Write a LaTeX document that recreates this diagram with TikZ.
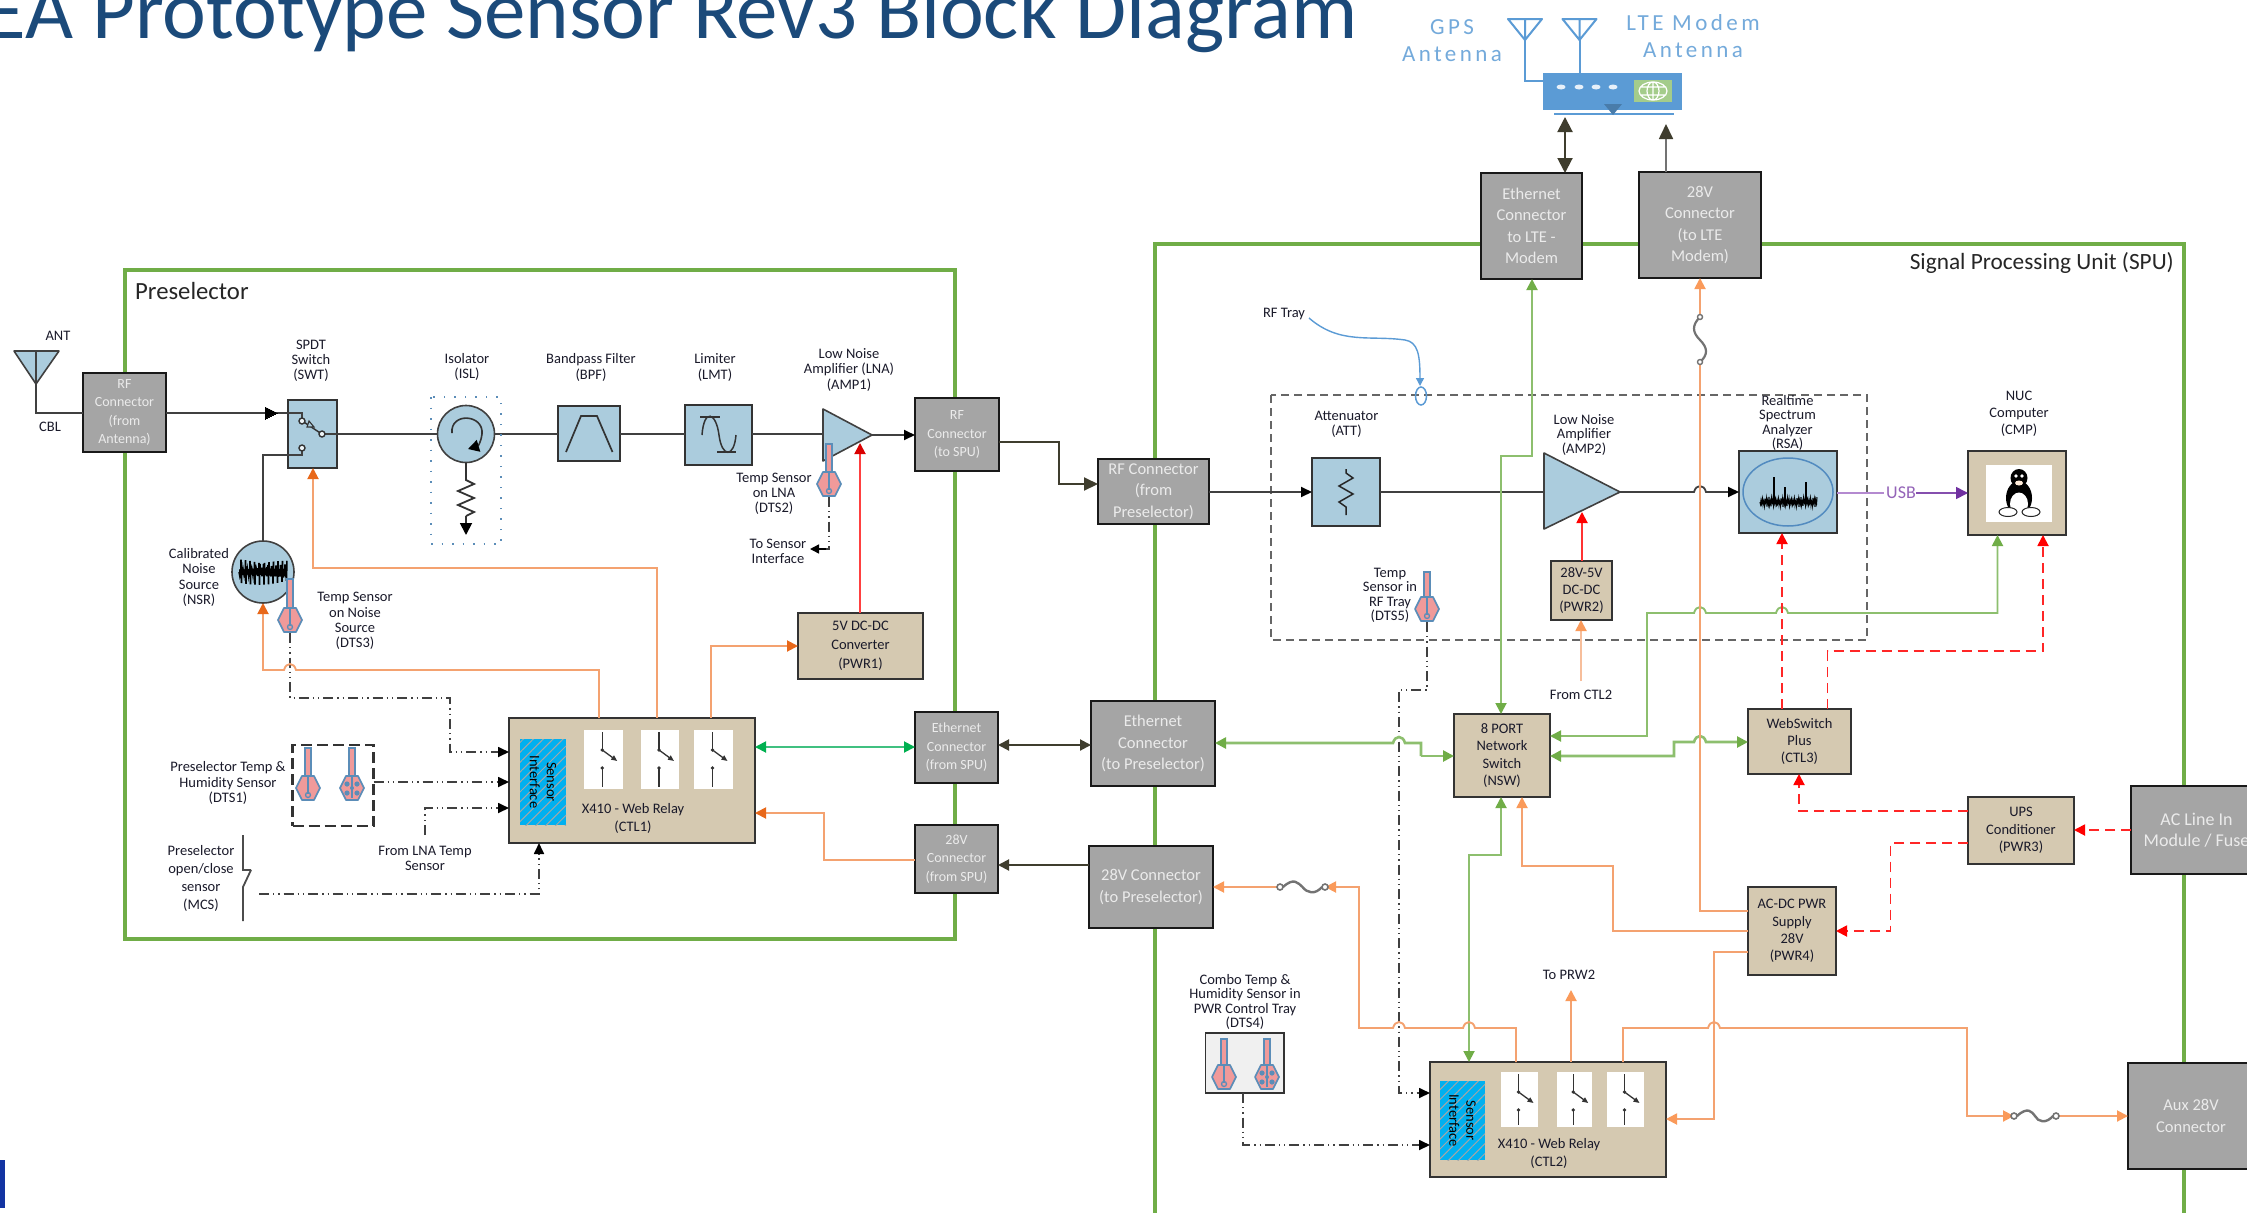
\documentclass[tikz,border=0pt]{standalone}
\usepackage{fontspec}
\setmainfont{Carlito}
\usetikzlibrary{arrows.meta,patterns.meta,calc}
\definecolor{lblue}{HTML}{ABCCDD}
\definecolor{tanb}{HTML}{D5C9B1}
\definecolor{grayb}{HTML}{A5A5A5}
\definecolor{grn}{HTML}{70AD47}
\definecolor{grnl}{HTML}{8DBF6E}
\definecolor{org}{HTML}{F4A270}
\definecolor{orgd}{HTML}{E8681A}
\definecolor{orgt}{HTML}{FA9A5A}
\definecolor{mblue}{HTML}{5B9BD5}
\definecolor{dkol}{HTML}{3F3D2E}
\definecolor{ink}{HTML}{1A1A2A}
\definecolor{pinkf}{HTML}{F09A9A}
\definecolor{sblue}{HTML}{5B8DB8}
\definecolor{purp}{HTML}{7030A0}
\definecolor{purpl}{HTML}{B48AD0}
\definecolor{titlec}{HTML}{1B4A7A}
\definecolor{brg}{HTML}{00B050}
\definecolor{brgl}{HTML}{40C080}
\tikzset{
 x=1pt,y=-1pt,
 gbox/.style={draw=black!90,line width=2.6pt,fill=grayb,text=white!92!black,font=\fontsize{14}{18.5}\selectfont,align=center},
 gboxl/.style={gbox,font=\fontsize{16.5}{21.5}\selectfont},
 tbox/.style={draw=black!80,line width=1.6pt,fill=tanb,text=ink,font=\fontsize{14.5}{17.3}\selectfont,align=center},
 bbox/.style={draw=black!80,line width=1.6pt,fill=lblue},
 lbl/.style={text=ink,font=\fontsize{14.5}{15.2}\selectfont,align=center,inner sep=0pt},
 wireblk/.style={draw=black!75,line width=1.8pt},
 wirek/.style={-{Triangle[length=11pt,width=10pt,color=black]}},
 wiredk/.style={draw=dkol,line width=2pt},
 wireorg/.style={draw=org,line width=1.9pt},
 tiporg/.style={-{Triangle[length=11pt,width=11pt,color=orgt]}},
 tiporgd/.style={-{Triangle[length=11pt,width=11pt,color=orgd]}},
 wiregrn/.style={draw=grnl,line width=1.9pt},
 tipgrn/.style={-{Triangle[length=11pt,width=11pt,color=grn]}},
 wirered/.style={draw=red!85!white,line width=1.9pt,dash pattern=on 10pt off 6pt},
 tipred/.style={-{Triangle[length=11pt,width=11pt,color=red]}},
 wiredash/.style={draw=black!75,line width=1.7pt,dash pattern=on 10pt off 4pt on 1.3pt off 4pt on 1.3pt off 4pt},
}
% box from corners
\newcommand\bx[7]{\node[#2,inner sep=0pt,outer sep=0pt,minimum width={(#5-#3)*1pt},minimum height={(#6-#4)*1pt}] (#1) at ({(#3+#5)/2},{(#4+#6)/2}) {#7};}
\newcommand\humpR[2]{-- (#1-6,#2) .. controls (#1-4,#2-8) and (#1+4,#2-8) .. (#1+6,#2)}
\newcommand\humpL[2]{-- (#1+6,#2) .. controls (#1+4,#2-8) and (#1-4,#2-8) .. (#1-6,#2)}
% temperature sensor: centre x, bar top, hexagon centre y, kind
\newcommand\tsens[4]{%
 \draw[sblue,line width=1.5pt,fill=pinkf] (#1-3,#2) rectangle (#1+3,#3-8);
 \draw[sblue,line width=1.7pt,fill=pinkf,line join=round] (#1-12,#3) -- (#1-6,#3-12) -- (#1+6,#3-12) -- (#1+12,#3) -- (#1+6,#3+12) -- (#1-6,#3+12) -- cycle;
 \ifnum#4=0
  \draw[sblue,line width=1.5pt] (#1,#3-12) -- (#1,#3+6);
  \draw[sblue,line width=1.3pt] (#1,#3+7) circle[radius=2.5];
 \else
  \fill[sblue] (#1-5,#3-4) circle[radius=2.6] (#1+5,#3-4) circle[radius=2.6] (#1-5,#3+5) circle[radius=2.6] (#1+5,#3+5) circle[radius=2.6] (#1,#3) circle[radius=2];
  \draw[sblue,line width=1.5pt] (#1,#3-12) -- (#1,#3+10);
 \fi}
% relay contact panel
\newcommand\relay[4]{%
 \fill[white] (#1,#2) rectangle (#3,#4);
 \draw[black!80,line width=1.5pt] ({(#1+#3)/2-1},#2+2) -- ({(#1+#3)/2-1},#2+20);
 \draw[black!80,line width=1.3pt,-{Triangle[length=6pt,width=5pt]}] ({(#1+#3)/2-1},#2+20) -- ({(#1+#3)/2+14},#2+31);
 \fill[black!80] ({(#1+#3)/2-1},#2+20) circle[radius=1.8];
 \draw[black!80,line width=1.5pt] ({(#1+#3)/2-1},#2+38) -- ({(#1+#3)/2-1},#4-2);
 \fill[black!80] ({(#1+#3)/2-1},#2+38) circle[radius=1.8];}
\newcommand\fusesym[3]{%
 \draw[black!55,line width=2.4pt] (#1+3,#3) .. controls (#1+14,#3-10) and (#1+18,#3-4) .. ({(#1+#2)/2},#3) .. controls (#2-18,#3+6) and (#2-10,#3+8) .. (#2-3,#3);
 \draw[black!55,line width=1.6pt,fill=white] (#1,#3) circle[radius=3] (#2,#3) circle[radius=3];}
\begin{document}
\begin{tikzpicture}
\useasboundingbox (0,0) rectangle (2247,1213);
\clip (0,0) rectangle (2247,1213);
\fill[white] (0,0) rectangle (2247,1213);
% title and corner mark
\node[anchor=base east,inner sep=0pt,text=titlec,font=\fontsize{83}{95}\selectfont] (title) at (1358,38) {EA Prototype Sensor Rev3 Block Diagram};
\fill[blue!30!titlec] (0,1160) rectangle (5,1208);
% frames
\draw[grn,line width=3.6pt] (125,270) rectangle (955,939);
\draw[grn,line width=3.6pt] (1155,1240) -- (1155,244) -- (2184,244) -- (2184,1240);
\node[anchor=west,inner sep=0pt,text=black!85,font=\fontsize{24.7}{28}\selectfont] (presel) at (135,291) {Preselector};
\node[anchor=east,inner sep=0pt,text=black!85,font=\fontsize{23.3}{26}\selectfont] (spulbl) at (2174,263) {Signal Processing Unit (SPU)};
\draw[black!60,line width=1.3pt,dash pattern=on 8pt off 5pt] (1271,395) rectangle (1867,640);
% antenna
\draw[black!75,line width=1.6pt,fill=lblue,line join=round] (14,351) -- (59,351) -- (36,384) -- cycle;
\draw[black!75,line width=1.6pt] (36,351) -- (36,384);
\coordinate (antfoot) at (36,384);
\node[lbl] (antlbl) at (58,336) {ANT};
\node[lbl] (cbllbl) at (50,427) {CBL};
% gray connectors
\bx{rfant}{gbox}{83}{373}{166}{452}{RF\\Connector\\(from\\Antenna)}
\bx{rfspu}{gbox}{915}{398}{999}{471}{RF\\Connector\\(to SPU)}
\bx{ethspu}{gbox}{915}{712}{998}{783}{Ethernet\\Connector\\(from SPU)}
\bx{pwspu}{gbox}{915}{825}{998}{893}{28V\\Connector\\(from SPU)}
\bx{rfpre}{gboxl}{1098}{459}{1209}{524}{RF Connector\\(from\\Preselector)}
\bx{ethpre}{gboxl}{1091}{701}{1215}{786}{Ethernet\\Connector\\(to Preselector)}
\bx{pwpre}{gboxl}{1089}{846}{1213}{928}{28V Connector\\(to Preselector)}
\bx{ethlte}{gboxl}{1481}{173}{1582}{279}{Ethernet\\Connector\\to LTE -\\Modem}
\bx{pwlte}{gboxl}{1639}{172}{1761}{278}{28V\\Connector\\(to LTE\\Modem)}
\bx{acin}{gboxl,font=\fontsize{18}{21.5}\selectfont}{2131}{786}{2262}{874}{AC Line In\\Module / Fuse}
\bx{aux}{gboxl}{2128}{1063}{2262}{1169}{\hspace*{-8pt}Aux 28V\\\hspace*{-8pt}Connector}
% RF chain boxes
\bx{swt}{bbox}{288}{400}{337}{468}{}
\bx{bpf}{bbox}{558}{406}{620}{461}{}
\bx{lmt}{bbox}{685}{405}{752}{465}{}
\bx{att}{bbox}{1312}{458}{1380}{526}{}
\bx{rsa}{bbox}{1739}{451}{1837}{533}{}
\draw[black!75,line width=1.6pt,fill=lblue] (466,434) circle[radius=28.5];
\coordinate (islw) at (437.5,434); \coordinate (isle) at (494.5,434); \coordinate (isls) at (466,462.5);
\draw[black!75,line width=1.6pt,fill=lblue] (263,572) circle[radius=31];
\coordinate (nsrn) at (263,541); \coordinate (nsrs) at (263,603);
\draw[black!75,line width=1.6pt,fill=lblue,line join=round] (823,409) -- (872,435) -- (823,461) -- cycle;
\coordinate (lnaw) at (823,434); \coordinate (lnae) at (872,435);
\draw[black!75,line width=1.6pt,fill=lblue,line join=round] (1544,453) -- (1620,492) -- (1544,529) -- cycle;
\coordinate (ampw) at (1544,492); \coordinate (ampe) at (1620,492);
% tan boxes
\bx{pwr1}{tbox,font=\fontsize{14.5}{19}\selectfont}{798}{613}{923}{679}{5V DC-DC\\Converter\\(PWR1)}
\bx{ctla}{tbox}{509}{718}{755}{843}{}
\bx{ctlb}{tbox}{1430}{1062}{1666}{1177}{}
\bx{pwr2}{tbox}{1551}{561}{1612}{620}{28V-5V\\DC-DC\\(PWR2)}
\bx{nsw}{tbox}{1454}{714}{1550}{797}{8 PORT\\Network\\Switch\\(NSW)}
\bx{ctlc}{tbox}{1748}{709}{1851}{774}{WebSwitch\\Plus\\(CTL3)}
\bx{pwr3}{tbox}{1968}{797}{2074}{864}{UPS\\Conditioner\\(PWR3)}
\bx{pwr4}{tbox}{1748}{887}{1836}{975}{AC-DC PWR\\Supply\\28V\\(PWR4)}
\bx{cmp}{tbox}{1968}{451}{2066}{535}{}
\fill[white] (1986,465) rectangle (2052,522);
% modem
\bx{modem}{fill=mblue}{1543}{73}{1682}{110}{}
\draw[mblue,line width=1.6pt] (1554,114) -- (1674,114);
\fill[white!85!mblue] (1561,87) ellipse[x radius=4.5,y radius=2.5] (1579,87) ellipse[x radius=4.5,y radius=2.5] (1596,87) ellipse[x radius=4.5,y radius=2.5] (1613,87) ellipse[x radius=4.5,y radius=2.5];
\fill[mblue!80!black] (1604,104) -- (1622,104) -- (1613,115) -- cycle;
\fill[grnl!80!white] (1634,80) rectangle (1672,102);
\draw[white,line width=1.2pt] (1653,91) ellipse[x radius=14,y radius=9] (1653,91) ellipse[x radius=6,y radius=9] (1653,82) -- (1653,100) (1640,87) -- (1666,87) (1640,95) -- (1666,95);
\draw[mblue,line width=2pt,line join=round] (1508,19) -- (1542,19) -- (1525,40) -- cycle (1525,40) -- (1525,19);
\draw[mblue,line width=2pt,line join=round] (1562.5,19) -- (1596.5,19) -- (1579.5,40) -- cycle (1579.5,40) -- (1579.5,19);
\draw[mblue,line width=2pt] (1525,40) -- (1525,81) -- (modem.west |- 0,81);
\draw[mblue,line width=2pt] (1579.5,40) -- (modem.north -| 1579.5,0);
\node[lbl,text=mblue!85!white,font=\fontsize{23}{27.5}\addfontfeature{LetterSpace=15}\selectfont] (gpslbl) at (1452,40.5) {GPS\\Antenna};
\node[lbl,text=mblue!85!white,font=\fontsize{23}{27.5}\addfontfeature{LetterSpace=15}\selectfont] (ltelbl) at (1693,36) {LTE Modem\\Antenna};
% --- top connectors
\draw[wiredk,{Triangle[length=15pt,width=15pt]}-{Triangle[length=15pt,width=15pt]}] (1565,117) -- (ethlte.north -| 1565,0);
\draw[draw=black!55,line width=1.7pt,-{Triangle[length=15pt,width=14pt,color=dkol]}] (pwlte.north -| 1666,0) -- (1666,124);
% --- preselector RF chain
\draw[wireblk] (antfoot) -- (36,413) -- (rfant.west |- 0,413);
\draw[wireblk] (rfant.east |- 0,413) -- (302,413) -- (302,418);
\draw[black,line width=0pt,fill=black] (265,407) -- (277,413) -- (265,419) -- cycle;
\draw[wireblk] (322,434) -- (islw);
\draw[wireblk] (isle) -- (bpf.west |- 0,434);
\draw[wireblk] (bpf.east |- 0,434) -- (lmt.west |- 0,434);
\draw[wireblk] (lmt.east |- 0,434) -- (lnaw);
\draw[wireblk,wirek] (lnae) -- (rfspu.west |- 0,435);
\draw[wireblk] (302,451) -- (302,455) -- (263,455) -- (nsrn);
\draw[wiredk,-{Triangle[length=14pt,width=13pt]}] (rfspu.east |- 0,442) -- (1059,442) -- (1059,484) -- (rfpre.west |- 0,484);
% switch details
\draw[black!80,line width=1.4pt,fill=white!80!lblue] (302,421) circle[radius=3] (322,434) circle[radius=3] (302,448) circle[radius=3];
\draw[black!80,line width=1.4pt] (304.5,422.5) -- (319.5,432.5);
\draw[black!80,line width=1.1pt,fill=lblue] (309,421) -- (314,427) -- (307,427) -- cycle;
% isolator details
\draw[black!80,line width=1.6pt,-{Triangle[length=11pt,width=12pt,color=black]}] (452,433) .. controls (450,412) and (484,414) .. (482,434) .. controls (481,442) and (478,446) .. (468,449);
\draw[sblue,line width=2pt,dash pattern=on 1.5pt off 9pt] (431,397) rectangle (501,544);
\draw[black!80,line width=1.8pt] (isls) -- (466,480) -- (474,484) -- (458,491) -- (474,498) -- (458,505) -- (474,512) -- (466,516);
\draw[black!80,line width=1.8pt,-{Triangle[length=12pt,width=12pt,color=black]}] (466,516) -- (466,535);
% symbols
\draw[black!80,line width=1.7pt] (566,452) -- (581,416) -- (597,416) -- (612.5,452);
\draw[black!80,line width=1.7pt] (700,417) -- (720,417) (717,452) -- (736,452);
\draw[black!80,line width=1.5pt] (702,435) .. controls (704,408) and (716,412) .. (719,435) .. controls (722,458) and (734,458) .. (736,435);
\draw[black!85,line width=1.5pt] (1346,469) -- (1346,473) -- (1353,478) -- (1339,486) -- (1353,494) -- (1339,502) -- (1346,507) -- (1346,515);
% noise source
\draw[black,line width=1.5pt] plot[domain=0:48,samples=97,variable=\t] (239+\t,{572+13*sin(\t*320)*(0.65+0.35*cos(\t*157+20))});
\tsens{290}{579}{620}{0}
% LNA temp
\tsens{829}{444}{484}{0}
\draw[wiredash] (829,497) -- (829,549) -- (820,549);
\draw[black,line width=1.4pt,-{Triangle[length=9pt,width=9pt]}] (826,549) -- (810,549);
% DTS3 signal
\draw[wiredash,wirek] (290,633) -- (290,698) -- (450,698) -- (450,752) -- (ctla.west |- 0,752);
% DTS1
\node[inner sep=0pt,outer sep=0pt,draw=black!80,line width=2.2pt,dash pattern=on 11pt off 5pt,minimum width=81pt,minimum height=81pt] (dtsa) at (333,785.5) {};
\tsens{308}{748}{788}{0}
\tsens{352}{748}{788}{1}
\draw[wiredash,wirek] (dtsa.east |- 0,782) -- (ctla.west |- 0,782);
% LNA temp in
\draw[wiredash,wirek] (425,835) -- (425,808) -- (ctla.west |- 0,808);
% MCS
\coordinate (mcsout) at (259,894);
\draw[black!70,line width=1.8pt] (243,835) -- (243,870) -- (251,870) (251,870) -- (243,887) -- (243,921);
\draw[wiredash,wirek] (mcsout) -- (539,894) -- (ctla.south -| 539,0);
% CTL1 internals
\node[draw=none,fill={rgb,255:red,0;green,176;blue,240},inner sep=0pt,outer sep=0pt,minimum width=46pt,minimum height=86pt,postaction={pattern={Lines[angle=45,distance=7pt,line width=1pt]},pattern color=black!35}] (sia) at (543,782) {};
\node[rotate=-90,text=black,inner sep=0pt,align=center,font=\fontsize{14.5}{17}\selectfont] (siat) at (543,782) {Sensor\\Interface};
\relay{584}{730}{622.5}{789}
\relay{641}{730}{679}{789}
\relay{694}{730}{733}{789}
\node[lbl,font=\fontsize{14.5}{18}\selectfont] (ctlat) at (633,818) {X410 - Web Relay\\(CTL1)};
% CTL1 orange
\draw[wireorg,tiporgd] (599,718) -- (599,670) \humpL{290}{670} -- (263,670) -- (nsrs);
\draw[wireorg,tiporgd] (657,718) -- (657,568) -- (313,568) -- (swt.south -| 313,0);
\draw[wireorg,tiporgd] (711,718) -- (711,646) -- (pwr1.west |- 0,646);
\draw[draw=red!75!white,line width=1.9pt,-{Triangle[length=11pt,width=11pt,color=red!85!black]}] (pwr1.north -| 860,0) -- (860,443);
\draw[wireorg,tiporgd] (pwspu.west |- 0,860) -- (824,860) -- (824,813) -- (ctla.east |- 0,813);
\draw[draw=brgl,line width=1.9pt,{Triangle[length=11pt,width=11pt,color=brg]}-{Triangle[length=11pt,width=11pt,color=brg]}] (ctla.east |- 0,747) -- (ethspu.west |- 0,747);
\draw[wiredk,{Triangle[length=11pt,width=11pt]}-{Triangle[length=11pt,width=11pt]}] (ethspu.east |- 0,745) -- (ethpre.west |- 0,745);
\draw[wiredk,-{Triangle[length=11pt,width=11pt]}] (pwpre.west |- 0,865) -- (pwspu.east |- 0,865);
% preselector labels
\node[lbl] (swtl) at (311,360.5) {SPDT\\Switch\\(SWT)};
\node[lbl] (isll) at (467,367) {Isolator\\(ISL)};
\node[lbl] (bpfl) at (591,367.5) {Bandpass Filter\\(BPF)};
\node[lbl] (lmtl) at (715,367.5) {Limiter\\(LMT)};
\node[lbl] (lnal) at (849,370) {Low Noise\\Amplifier (LNA)\\(AMP1)};
\node[lbl] (nsrl) at (199,577.5) {Calibrated\\Noise\\Source\\(NSR)};
\node[lbl] (dtscl) at (355,621) {Temp Sensor\\on Noise\\Source\\(DTS3)};
\node[lbl] (dtsbl) at (774,494) {Temp Sensor\\on LNA\\(DTS2)};
\node[lbl] (tosil) at (778,551) {To Sensor\\Interface};
\node[lbl] (dtsal) at (228,783) {Preselector Temp \&\\Humidity Sensor\\(DTS1)};
\node[lbl] (fromlna) at (425,858) {From LNA Temp\\Sensor};
\node[lbl,font=\fontsize{14.5}{18}\selectfont] (mcsl) at (201,878.5) {Preselector\\open/close\\sensor\\(MCS)};
% --- SPU RF chain
\draw[wireblk,wirek] (rfpre.east |- 0,492) -- (att.west |- 0,492);
\draw[wireblk] (att.east |- 0,492) -- (ampw);
\draw[wireblk,wirek] (ampe) \humpR{1700}{492} -- (rsa.west |- 0,492);
\draw[mblue!90!black,line width=1.5pt] (1788,492) ellipse[x radius=45,y radius=34];
\draw[black,line width=1.1pt] plot[domain=0:57,samples=115,variable=\t] (1760+\t,{502+5*sin(\t*270)*(0.65+0.35*cos(\t*157+20))});
\draw[black,line width=1.2pt] (1774,502) -- (1774,477) (1785,502) -- (1785,487) (1806,502) -- (1806,482);
\draw[draw=purpl,line width=2.2pt] (rsa.east |- 0,493) -- (1884,493);
\draw[draw=purp!85!white,line width=1.6pt,-{Triangle[length=12pt,width=12pt,color=purp]}] (1916,493) -- (cmp.west |- 0,493);
\node[inner sep=0pt,text=purp!75!white,font=\fontsize{18}{20}\selectfont] (usbl) at (1901,493) {USB};
% Tux
\fill[black] (2019,478) ellipse[x radius=8.5,y radius=9];
\fill[black] (2019,498) ellipse[x radius=13,y radius=17];
\fill[black] (2006,499) -- (2011,486) -- (2013,505) -- cycle (2032,499) -- (2027,486) -- (2025,505) -- cycle;
\fill[white] (2019,504) ellipse[x radius=9,y radius=11.5];
\fill[white!85!orange] (2019,483) ellipse[x radius=4,y radius=2.5];
\fill[white] (2016,476) circle[radius=1.8] (2022,476) circle[radius=1.8];
\draw[black!85,fill=white,line width=1pt] (2008,512) ellipse[x radius=9,y radius=4.5];
\draw[black!85,fill=white,line width=1pt] (2031,512) ellipse[x radius=9,y radius=4.5];
% SPU labels
\node[lbl] (attl) at (1346.5,424.5) {Attenuator\\(ATT)};
\node[lbl,font=\fontsize{14.5}{14.4}\selectfont] (ampl) at (1584,435) {Low Noise\\Amplifier\\(AMP2)};
\node[lbl,font=\fontsize{14.5}{14.2}\selectfont] (rsal) at (1787.5,423) {Realtime\\Spectrum\\Analyzer\\(RSA)};
\node[lbl,font=\fontsize{14.5}{17}\selectfont] (cmpl) at (2019,414) {NUC\\Computer\\(CMP)};
\node[lbl,font=\fontsize{14.5}{14.4}\selectfont] (dtsel) at (1390,595.5) {Temp\\Sensor in\\RF Tray\\(DTS5)};
\node[lbl,font=\fontsize{14.5}{14.4}\selectfont] (dtsdl) at (1245,1002) {Combo Temp \&\\Humidity Sensor in\\PWR Control Tray\\(DTS4)};
\node[lbl] (fromctl) at (1581,695) {From CTL2};
\node[lbl] (toprw) at (1569,975) {To PRW2};
\node[lbl] (trayl) at (1284,314) {RF Tray};
% RF tray connector
\draw[mblue,line width=1.5pt] (1421,396) ellipse[x radius=5.5,y radius=9];
\draw[mblue,line width=1.4pt,-{Triangle[length=8pt,width=8pt]}] (1309,318) .. controls (1340,345) and (1370,335) .. (1405,340) .. controls (1418,342) and (1420,355) .. (1420,386);
% DTS5
\tsens{1427}{572}{609}{0}
\draw[wiredash,wirek] (1427,622) -- (1427,690) -- (1399,690) -- (1399,1093) -- (ctlb.west |- 0,1093);
% green network
\draw[wiregrn,line width=2.6pt,tipgrn] (1421,756) -- (1421,743) \humpL{1399}{743} -- (ethpre.east |- 0,743);
\draw[wiregrn,line width=2.6pt,tipgrn] (1421,756) -- (nsw.west |- 0,756);
\draw[wiregrn,tipgrn] (1532,300) -- (1532,456) -- (1501,456) -- (nsw.north -| 1501,0);
\draw[wiregrn,tipgrn] (1532,300) -- (ethlte.south -| 1532,0);
\draw[wiregrn,{Triangle[length=11pt,width=11pt,color=grn]}-{Triangle[length=11pt,width=11pt,color=grn]}] (nsw.east |- 0,736) -- (1647,736) -- (1647,613) \humpR{1700}{613} \humpR{1782}{613} -- (1997.5,613) -- (cmp.south -| 1997.5,0);
\draw[wiregrn,line width=2.6pt,{Triangle[length=11pt,width=11pt,color=grn]}-{Triangle[length=11pt,width=11pt,color=grn]}] (nsw.east |- 0,756) -- (1674,756) -- (1674,742) \humpR{1700}{742} -- (ctlc.west |- 0,742);
\draw[wiregrn,{Triangle[length=11pt,width=11pt,color=grn]}-{Triangle[length=11pt,width=11pt,color=grn]}] (nsw.south -| 1501,0) -- (1501,855) -- (1469,855) -- (ctlb.north -| 1469,0);
% orange power
\coordinate (fusea) at (1280,887); \coordinate (fuseb) at (1325,887);
\coordinate (fusec) at (2014,1116); \coordinate (fused) at (2056,1116);
\draw[wireorg,tiporg] (1516,1062) -- (1516,1028) \humpL{1469}{1028} \humpL{1399}{1028} -- (1359,1028) -- (1359,887) -- (fuseb);
\draw[wireorg,tiporg] (fusea) -- (pwpre.east |- 0,887);
\draw[wireorg,tiporg] (1571,1062) -- (1571,990);
\draw[wireorg,tiporg] (1623,1062) -- (1623,1028) \humpR{1714}{1028} -- (1967,1028) -- (1967,1116) -- (fusec);
\draw[wireorg,tiporg] (fused) -- (aux.west |- 0,1116);
\draw[wireorg,tiporg] (pwr4.west |- 0,952) -- (1714,952) -- (1714,1119) -- (ctlb.east |- 0,1119);
\draw[wireorg,tiporg] (pwr4.west |- 0,931) -- (1613,931) -- (1613,866) -- (1522,866) -- (nsw.south -| 1522,0);
\draw[wireorg,tiporg] (pwr4.west |- 0,911) -- (1700,911) -- (1700,365) (1700,317) -- (pwlte.south -| 1700,0);
\draw[black!55,line width=2.2pt] (1700,317) .. controls (1692,325) and (1692,332) .. (1700,340) .. controls (1708,348) and (1708,355) .. (1700,362);
\draw[black!55,line width=1.4pt,fill=white] (1700,317) circle[radius=2.5] (1700,362) circle[radius=2.5];
\draw[draw=org!70!white,line width=1.9pt,tiporg] (1581,681) -- (pwr2.south -| 1581,0);
\draw[draw=red!80!white,line width=1.9pt,tipred] (pwr2.north -| 1582,0) -- (1582,512);
\fusesym{1280}{1325}{887}
\fusesym{2014}{2056}{1116}
% red power
\draw[wirered,tipred] (acin.west |- 0,830) -- (pwr3.east |- 0,830);
\draw[wirered,tipred] (pwr3.west |- 0,811) -- (1799,811) -- (ctlc.south -| 1799,0);
\draw[wirered,tipred] (pwr3.west |- 0,843) -- (1890.5,843) -- (1890.5,931) -- (pwr4.east |- 0,931);
\draw[wirered,tipred] (ctlc.north -| 1782,0) -- (rsa.south -| 1782,0);
\draw[wirered,tipred] (ctlc.north -| 1827.5,0) -- (1827.5,651) -- (2043,651) -- (cmp.south -| 2043,0);
% CTL2 internals
\node[draw=none,fill={rgb,255:red,0;green,176;blue,240},inner sep=0pt,outer sep=0pt,minimum width=45pt,minimum height=79pt,postaction={pattern={Lines[angle=45,distance=7pt,line width=1pt]},pattern color=black!35}] (sib) at (1462.5,1120.5) {};
\node[rotate=-90,text=black,inner sep=0pt,align=center,font=\fontsize{14.5}{17}\selectfont] (sibt) at (1462.5,1120.5) {Sensor\\Interface};
\relay{1501}{1072}{1538}{1127}
\relay{1556.5}{1072}{1592}{1127}
\relay{1607}{1072}{1644}{1127}
\node[lbl,font=\fontsize{14.5}{18}\selectfont] (ctlbt) at (1549,1153) {X410 - Web Relay\\(CTL2)};
% DTS4
\bx{dtsd}{draw=black!80,line width=1.6pt,fill=black!6}{1205.5}{1033}{1284}{1093}{}
\tsens{1224}{1039}{1077}{0}
\tsens{1267}{1039}{1077}{1}
\draw[wiredash,wirek] (dtsd.south -| 1243,0) -- (1243,1145) -- (ctlb.west |- 0,1145);
\end{tikzpicture}
\end{document}
